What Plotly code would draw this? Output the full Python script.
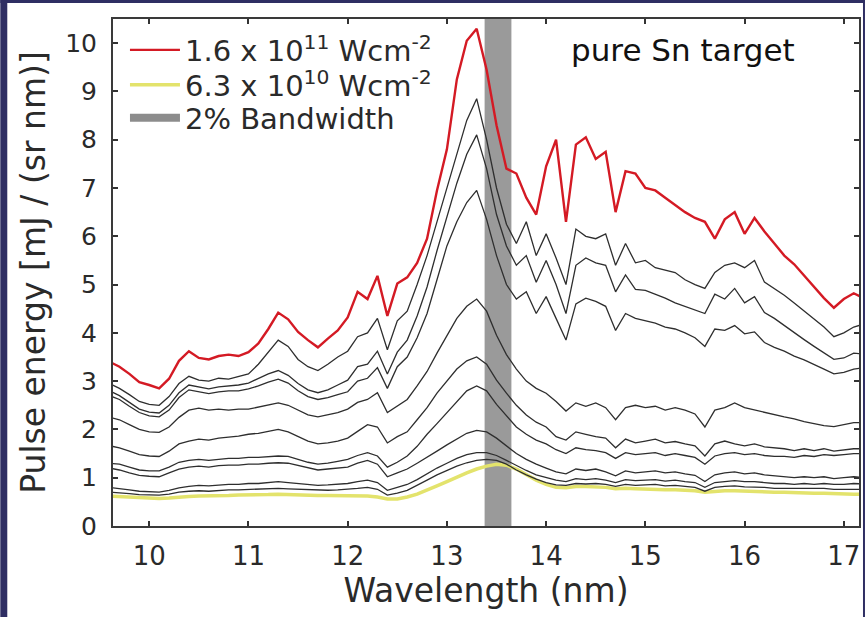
import plotly.graph_objects as go

wavelength = [9.6, 9.7, 9.8, 9.9, 10.0, 10.1, 10.2, 10.3, 10.4, 10.5, 10.6, 10.7, 10.8, 10.9,
              11.0, 11.1, 11.2, 11.3, 11.4, 11.5, 11.6, 11.7, 11.8, 11.9,
              12.0, 12.1, 12.2, 12.3, 12.4, 12.5, 12.6, 12.7, 12.8, 12.9,
              13.0, 13.1, 13.2, 13.3, 13.4, 13.5, 13.6, 13.7, 13.8, 13.9,
              14.0, 14.1, 14.2, 14.3, 14.4, 14.5, 14.6, 14.7, 14.8, 14.9,
              15.0, 15.1, 15.2, 15.3, 15.4, 15.5, 15.6, 15.7, 15.8, 15.9,
              16.0, 16.1, 16.2, 16.3, 16.4, 16.5, 16.6, 16.7, 16.8, 16.9,
              17.0, 17.1, 17.2]

red_high = [3.40, 3.30, 3.15, 2.98, 2.92, 2.85, 3.05, 3.42, 3.62, 3.48, 3.45, 3.52, 3.55, 3.52,
            3.60, 3.78, 4.08, 4.42, 4.28, 4.02, 3.85, 3.70, 3.88, 4.05,
            4.32, 4.85, 4.70, 5.18, 4.35, 5.02, 5.15, 5.45, 5.95, 6.95,
            7.80, 9.25, 10.05, 10.30, 9.45, 8.30, 7.40, 7.30, 6.80, 6.45,
            7.45, 8.00, 6.30, 7.90, 8.05, 7.60, 7.75, 6.50, 7.35, 7.30,
            7.00, 6.95, 6.80, 6.65, 6.50, 6.38, 6.30, 5.95, 6.35, 6.50,
            6.05, 6.38, 6.10, 5.85, 5.60, 5.42, 5.18, 4.95, 4.72, 4.52,
            4.70, 4.82, 4.72]

black_a = [2.95, 2.85, 2.72, 2.58, 2.52, 2.50, 2.68, 2.95, 3.10, 3.02, 3.00, 3.06, 3.04, 3.10,
           3.15, 3.35, 3.60, 3.85, 3.72, 3.45, 3.30, 3.22, 3.35, 3.50,
           3.62, 3.92, 4.00, 4.30, 3.65, 4.25, 4.45, 5.00, 5.60, 6.30,
           7.00, 7.70, 8.40, 8.85, 8.00, 7.00, 6.25, 5.85, 6.30, 5.60,
           6.05, 5.55, 5.00, 6.15, 6.00, 5.95, 6.05, 5.40, 5.85, 5.45,
           5.50, 5.35, 5.30, 5.25, 5.10, 5.00, 4.92, 5.25, 5.40, 5.45,
           5.35, 5.50, 5.05, 4.92, 4.78, 4.62, 4.45, 4.30, 4.12, 3.92,
           4.00, 4.12, 4.18]

black_b = [2.80, 2.70, 2.56, 2.42, 2.36, 2.34, 2.50, 2.76, 2.92, 2.88, 2.84, 2.88, 2.90, 2.92,
           2.96, 3.05, 3.15, 3.22, 3.12, 2.95, 2.82, 2.76, 2.82, 2.92,
           3.02, 3.30, 3.35, 3.62, 3.15, 3.60, 3.85, 4.35, 4.95, 5.70,
           6.40, 7.10, 7.70, 8.10, 7.40, 6.45, 5.80, 5.40, 5.60, 5.05,
           5.50, 5.00, 4.40, 5.40, 5.55, 5.45, 5.40, 4.85, 5.20, 4.90,
           4.88, 4.80, 4.72, 4.62, 4.55, 4.48, 4.40, 4.80, 4.70, 4.92,
           4.62, 4.75, 4.42, 4.30, 4.15, 4.00, 3.86, 3.72, 3.58, 3.45,
           3.48, 3.58, 3.56]

black_c = [2.70, 2.62, 2.48, 2.35, 2.28, 2.26, 2.40, 2.66, 2.82, 2.78, 2.74, 2.78, 2.80, 2.80,
           2.84, 2.90, 2.98, 3.04, 2.96, 2.80, 2.68, 2.62, 2.66, 2.72,
           2.78, 3.00, 3.06, 3.28, 2.85, 3.30, 3.50, 3.90, 4.40, 5.10,
           5.80, 6.30, 6.70, 6.95, 6.35, 5.60, 5.00, 4.70, 4.85, 4.40,
           4.75, 4.30, 3.85, 4.60, 4.72, 4.65, 4.55, 4.05, 4.40, 4.30,
           4.25, 4.20, 4.12, 4.08, 4.00, 3.90, 3.72, 4.08, 4.05, 4.15,
           3.98, 4.02, 3.80, 3.70, 3.62, 3.52, 3.44, 3.35, 3.25, 3.15,
           3.18, 3.25, 3.28]

black_d = [2.25, 2.20, 2.10, 2.00, 1.95, 1.94, 2.05, 2.25, 2.40, 2.44, 2.40, 2.42, 2.40, 2.42,
           2.42, 2.46, 2.50, 2.55, 2.50, 2.40, 2.30, 2.26, 2.30, 2.35,
           2.42, 2.56, 2.62, 2.76, 2.35, 2.48, 2.62, 2.90, 3.20, 3.58,
           3.95, 4.30, 4.55, 4.70, 4.45, 3.95, 3.55, 3.25, 3.00, 2.85,
           2.75, 2.58, 2.38, 2.55, 2.48, 2.55, 2.45, 2.20, 2.45, 2.50,
           2.45, 2.48, 2.40, 2.45, 2.40, 2.32, 2.05, 2.40, 2.45, 2.55,
           2.45, 2.40, 2.36, 2.30, 2.26, 2.22, 2.16, 2.12, 2.08, 2.06,
           2.10, 2.14, 2.14]

black_e = [1.66, 1.62, 1.55, 1.48, 1.45, 1.44, 1.55, 1.70, 1.76, 1.80, 1.78, 1.82, 1.84, 1.86,
           1.90, 1.92, 1.96, 2.00, 1.95, 1.85, 1.76, 1.70, 1.72, 1.76,
           1.82, 1.96, 2.10, 2.05, 1.72, 1.85, 1.95, 2.20, 2.45, 2.75,
           3.00, 3.25, 3.42, 3.50, 3.35, 3.02, 2.75, 2.50, 2.30, 2.15,
           2.05, 1.85, 1.78, 1.95, 1.90, 1.85, 1.82, 1.62, 1.80, 1.72,
           1.76, 1.80, 1.72, 1.75, 1.70, 1.66, 1.45, 1.70, 1.76, 1.70,
           1.66, 1.70, 1.64, 1.62, 1.60, 1.56, 1.60, 1.56, 1.60, 1.55,
           1.58, 1.60, 1.60]

black_f = [1.30, 1.28, 1.22, 1.16, 1.14, 1.14, 1.22, 1.32, 1.36, 1.38, 1.36, 1.38, 1.40, 1.40,
           1.42, 1.42, 1.44, 1.45, 1.44, 1.38, 1.32, 1.28, 1.30, 1.34,
           1.38, 1.46, 1.52, 1.45, 1.22, 1.32, 1.45, 1.65, 1.90, 2.12,
           2.35, 2.58, 2.80, 2.90, 2.80, 2.52, 2.28, 2.05, 1.90, 1.78,
           1.70, 1.58, 1.50, 1.62, 1.58, 1.56, 1.52, 1.40, 1.52, 1.48,
           1.50, 1.52, 1.46, 1.50, 1.46, 1.42, 1.28, 1.45, 1.50, 1.52,
           1.48, 1.50, 1.46, 1.44, 1.44, 1.42, 1.46, 1.44, 1.48, 1.46,
           1.48, 1.50, 1.50]

black_g = [1.20, 1.16, 1.10, 1.05, 1.03, 1.02, 1.10, 1.18, 1.22, 1.24, 1.22, 1.25, 1.26, 1.26,
           1.28, 1.28, 1.30, 1.31, 1.30, 1.25, 1.20, 1.16, 1.18, 1.20,
           1.22, 1.30, 1.36, 1.28, 1.02, 1.10, 1.18, 1.30, 1.42, 1.55,
           1.68, 1.80, 1.92, 1.98, 1.95, 1.82, 1.66, 1.50, 1.38, 1.28,
           1.20, 1.12, 1.08, 1.18, 1.15, 1.18, 1.12, 1.04, 1.14, 1.10,
           1.12, 1.14, 1.10, 1.12, 1.08, 1.05, 0.92, 1.06, 1.10, 1.12,
           1.08, 1.10, 1.06, 1.04, 1.02, 1.00, 1.02, 1.00, 1.02, 0.98,
           1.00, 1.02, 1.00]

black_h = [0.80, 0.78, 0.75, 0.72, 0.71, 0.70, 0.74, 0.79, 0.82, 0.84, 0.83, 0.85, 0.86, 0.86,
           0.88, 0.88, 0.90, 0.92, 0.90, 0.88, 0.86, 0.84, 0.85, 0.86,
           0.88, 0.92, 0.95, 0.90, 0.74, 0.80, 0.86, 0.96, 1.08, 1.20,
           1.30, 1.40, 1.48, 1.52, 1.52, 1.46, 1.36, 1.25, 1.15, 1.06,
           1.00, 0.95, 0.92, 0.98, 0.96, 0.98, 0.95, 0.90, 0.96, 0.94,
           0.95, 0.96, 0.93, 0.95, 0.92, 0.90, 0.80, 0.90, 0.92, 0.94,
           0.92, 0.92, 0.90, 0.88, 0.88, 0.86, 0.88, 0.86, 0.88, 0.86,
           0.86, 0.88, 0.87]

black_i = [0.70, 0.69, 0.67, 0.65, 0.64, 0.64, 0.66, 0.70, 0.72, 0.73, 0.72, 0.74, 0.75, 0.75,
           0.76, 0.76, 0.77, 0.78, 0.77, 0.76, 0.75, 0.74, 0.74, 0.75,
           0.76, 0.78, 0.80, 0.76, 0.64, 0.68, 0.74, 0.84, 0.95, 1.06,
           1.15, 1.24, 1.31, 1.36, 1.38, 1.36, 1.28, 1.16, 1.06, 0.97,
           0.90, 0.85, 0.84, 0.88, 0.87, 0.88, 0.86, 0.82, 0.86, 0.84,
           0.85, 0.86, 0.83, 0.84, 0.82, 0.80, 0.72, 0.80, 0.82, 0.83,
           0.81, 0.81, 0.80, 0.78, 0.78, 0.77, 0.78, 0.77, 0.78, 0.76,
           0.76, 0.77, 0.76]

yellow_low = [0.62, 0.61, 0.60, 0.58, 0.57, 0.57, 0.58, 0.60, 0.61, 0.62, 0.62, 0.63, 0.63, 0.64,
              0.64, 0.65, 0.65, 0.66, 0.65, 0.64, 0.63, 0.63, 0.63, 0.63,
              0.63, 0.63, 0.62, 0.60, 0.56, 0.56, 0.60, 0.66, 0.74, 0.83,
              0.92, 1.02, 1.10, 1.18, 1.24, 1.28, 1.26, 1.18, 1.06, 0.95,
              0.86, 0.80, 0.79, 0.82, 0.82, 0.81, 0.80, 0.77, 0.78, 0.77,
              0.76, 0.76, 0.75, 0.75, 0.74, 0.73, 0.70, 0.72, 0.73, 0.73,
              0.72, 0.72, 0.71, 0.70, 0.70, 0.69, 0.69, 0.68, 0.68, 0.67,
              0.66, 0.66, 0.66]

black_series = [black_a, black_b, black_c, black_d, black_e, black_f, black_g, black_h, black_i]

band_edges = [13.38, 13.65]

legend_labels = ["1.6 x 10<sup>11</sup> Wcm<sup>-2</sup>",
                 "6.3 x 10<sup>10</sup> Wcm<sup>-2</sup>",
                 "2% Bandwidth"]

x_ticks = [10, 11, 12, 13, 14, 15, 16, 17]
y_ticks = [0, 1, 2, 3, 4, 5, 6, 7, 8, 9, 10]

FONT = "DejaVu Sans"
TXT = "#2a2a2a"

W, H = 867, 617
ml, mr, mt, mb = 113, 6, 19, 91
pw, ph = W - ml - mr, H - mt - mb


def px_x(p):
    return (p - ml) / pw


def px_y(p):
    return 1 - (p - mt) / ph


fig = go.Figure()

fig.add_trace(go.Scatter(x=wavelength, y=yellow_low, mode="lines",
                         line=dict(color="#e3e36c", width=3.5),
                         name=legend_labels[1], legend="legend2"))

for s in black_series:
    fig.add_trace(go.Scatter(x=wavelength, y=s, mode="lines",
                             line=dict(color="#2e2e2e", width=1.3),
                             showlegend=False, hoverinfo="skip"))

fig.add_trace(go.Scatter(x=wavelength, y=red_high, mode="lines",
                         line=dict(color="#d41a24", width=2.4),
                         name=legend_labels[0], legend="legend"))

fig.add_trace(go.Scatter(x=[None], y=[None], mode="lines",
                         line=dict(color="#8c8c8c", width=8),
                         name=legend_labels[2], legend="legend3"))

fig.add_vrect(x0=band_edges[0], x1=band_edges[1], fillcolor="#9a9a9a",
              opacity=1, line_width=0, layer="below")

# navy frame strips around the picture
navy = "#2f2e63"
frame_shapes = [
    dict(type="rect", xref="paper", yref="paper", x0=px_x(0), x1=px_x(7), y0=px_y(H), y1=px_y(0),
         fillcolor=navy, line_width=0, layer="above"),
    dict(type="rect", xref="paper", yref="paper", x0=px_x(0), x1=px_x(W), y0=px_y(3), y1=px_y(0),
         fillcolor=navy, line_width=0, layer="above"),
    dict(type="rect", xref="paper", yref="paper", x0=px_x(865), x1=px_x(W), y0=px_y(H), y1=px_y(0),
         fillcolor=navy, line_width=0, layer="above"),
]
for s in frame_shapes:
    fig.add_shape(**s)

fig.add_annotation(x=px_x(685), y=px_y(50), xref="paper", yref="paper",
                   xanchor="center", yanchor="middle",
                   text="pure Sn target", showarrow=False,
                   font=dict(family=FONT, size=31, color="#111111"))

leg_common = dict(xanchor="left", yanchor="middle", bgcolor="rgba(0,0,0,0)", borderwidth=0,
                  font=dict(family=FONT, size=29, color=TXT), itemwidth=50)

fig.update_layout(
    width=W, height=H,
    margin=dict(l=ml, r=mr, t=mt, b=mb, pad=0),
    paper_bgcolor="white", plot_bgcolor="white",
    font=dict(family=FONT, color=TXT),
    showlegend=True,
    legend=dict(x=px_x(125), y=px_y(50), **leg_common),
    legend2=dict(x=px_x(125), y=px_y(85), **leg_common),
    legend3=dict(x=px_x(125), y=px_y(118), **leg_common),
    xaxis=dict(range=[9.635, 17.153], tickvals=x_ticks, ticks="inside", ticklen=5,
               tickcolor="#333", tickwidth=2, showgrid=False, zeroline=False,
               showline=True, linecolor="#3a3a3a", linewidth=2, mirror="ticks",
               tickfont=dict(family=FONT, size=26, color=TXT),
               ticklabelstandoff=6,
               title=dict(text="Wavelength (nm)", standoff=0,
                          font=dict(family=FONT, size=33, color=TXT))),
    yaxis=dict(range=[0, 10.5], tickvals=y_ticks, ticks="inside", ticklen=5,
               tickcolor="#333", tickwidth=2, showgrid=False, zeroline=False,
               showline=True, linecolor="#3a3a3a", linewidth=2, mirror="ticks",
               tickfont=dict(family=FONT, size=25, color=TXT),
               ticklabelstandoff=9,
               title=dict(text="Pulse energy [mJ / (sr nm)]", standoff=10,
                          font=dict(family=FONT, size=33, color=TXT))),
)

fig.write_html("out.html", config={"displayModeBar": False},
               post_script="document.body.style.margin='0';")
